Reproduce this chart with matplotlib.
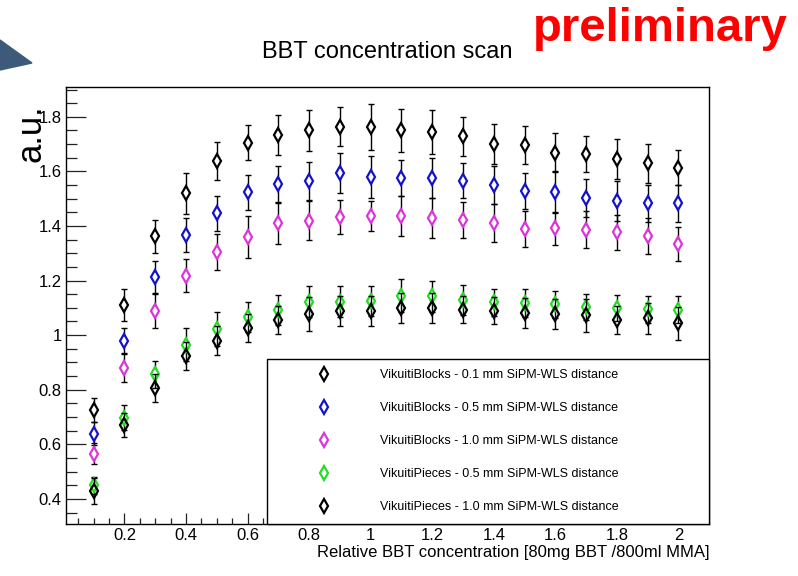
import matplotlib
matplotlib.use('Agg')
import matplotlib.pyplot as plt
from matplotlib.lines import Line2D
from matplotlib.patches import Polygon
import numpy as np

plt.rcParams['font.family'] = ['Liberation Sans', 'DejaVu Sans']

# relative BBT concentration
conc = [0.1, 0.2, 0.3, 0.4, 0.5, 0.6, 0.7, 0.8, 0.9, 1.0,
        1.1, 1.2, 1.3, 1.4, 1.5, 1.6, 1.7, 1.8, 1.9, 2.0]

blocks_01 = [0.725, 1.110, 1.362, 1.520, 1.637, 1.705, 1.734, 1.750, 1.764, 1.762,
             1.750, 1.744, 1.728, 1.700, 1.697, 1.668, 1.664, 1.646, 1.630, 1.613]
blocks_01_err = [0.045, 0.058, 0.061, 0.075, 0.070, 0.064, 0.073, 0.075, 0.072, 0.084,
                 0.078, 0.080, 0.073, 0.073, 0.070, 0.072, 0.065, 0.074, 0.072, 0.064]

blocks_05 = [0.639, 0.979, 1.212, 1.367, 1.447, 1.524, 1.554, 1.566, 1.594, 1.579,
             1.576, 1.576, 1.566, 1.550, 1.527, 1.524, 1.503, 1.490, 1.483, 1.483]
blocks_05_err = [0.043, 0.049, 0.061, 0.064, 0.064, 0.064, 0.067, 0.069, 0.074, 0.077,
                 0.067, 0.073, 0.065, 0.070, 0.066, 0.076, 0.070, 0.073, 0.067, 0.067]

blocks_10 = [0.566, 0.881, 1.089, 1.218, 1.303, 1.361, 1.410, 1.419, 1.432, 1.437,
             1.436, 1.428, 1.422, 1.411, 1.389, 1.391, 1.386, 1.377, 1.364, 1.334]
blocks_10_err = [0.038, 0.053, 0.064, 0.061, 0.066, 0.077, 0.075, 0.072, 0.063, 0.055,
                 0.073, 0.073, 0.067, 0.071, 0.065, 0.062, 0.068, 0.064, 0.065, 0.064]

pieces_05 = [0.450, 0.698, 0.857, 0.965, 1.022, 1.067, 1.093, 1.122, 1.123, 1.125,
             1.144, 1.142, 1.130, 1.120, 1.117, 1.113, 1.103, 1.098, 1.095, 1.093]
pieces_05_err = [0.032, 0.045, 0.050, 0.060, 0.063, 0.055, 0.055, 0.057, 0.057, 0.055,
                 0.060, 0.058, 0.055, 0.050, 0.052, 0.050, 0.047, 0.048, 0.050, 0.050]

pieces_10 = [0.429, 0.670, 0.806, 0.924, 0.979, 1.026, 1.056, 1.077, 1.089, 1.089,
             1.098, 1.098, 1.093, 1.089, 1.081, 1.077, 1.073, 1.056, 1.061, 1.044]
pieces_10_err = [0.046, 0.045, 0.050, 0.050, 0.053, 0.050, 0.050, 0.061, 0.055, 0.055,
                 0.055, 0.055, 0.050, 0.050, 0.055, 0.055, 0.060, 0.050, 0.055, 0.060]

labels = ['VikuitiBlocks - 0.1 mm SiPM-WLS distance',
          'VikuitiBlocks - 0.5 mm SiPM-WLS distance',
          'VikuitiBlocks - 1.0 mm SiPM-WLS distance',
          'VikuitiPieces - 0.5 mm SiPM-WLS distance',
          'VikuitiPieces - 1.0 mm SiPM-WLS distance']
colors = ['black', '#1212cc', '#dd33dd', '#22dd22', 'black']

xticks = [0.2, 0.4, 0.6, 0.8, 1.0, 1.2, 1.4, 1.6, 1.8, 2.0]
xtick_labels = ['0.2', '0.4', '0.6', '0.8', '1', '1.2', '1.4', '1.6', '1.8', '2']
yticks = [0.4, 0.6, 0.8, 1.0, 1.2, 1.4, 1.6, 1.8]
ytick_labels = ['0.4', '0.6', '0.8', '1', '1.2', '1.4', '1.6', '1.8']

series = [(blocks_01, blocks_01_err), (blocks_05, blocks_05_err), (blocks_10, blocks_10_err),
          (pieces_05, pieces_05_err), (pieces_10, pieces_10_err)]

fig = plt.figure(figsize=(7.98, 5.76), dpi=100)
ax = fig.add_axes([0.0827, 0.0903, 0.806, 0.759])

gap = 0.019  # error bar stops at the marker edge, ROOT style
x = np.array(conc)
for k, (vals, errs) in enumerate(series):
    y = np.array(vals)
    e = np.array(errs)
    ax.vlines(x, y + gap, y + e, color='black', lw=1.0, zorder=2 + k)
    ax.vlines(x, y - e, y - gap, color='black', lw=1.0, zorder=2 + k)
    ax.plot(x, y + e, ls='none', marker='_', ms=4.5, mew=1.0, color='black', zorder=2 + k)
    ax.plot(x, y - e, ls='none', marker='_', ms=4.5, mew=1.0, color='black', zorder=2 + k)
    ax.plot(x, y, ls='none', marker='d', ms=7.5, mfc='none', mec=colors[k], mew=1.6, zorder=2 + k)

ax.set_xlim(0.01, 2.1)
ax.set_ylim(0.308, 1.91)
ax.set_xticks(xticks)
ax.set_xticklabels(xtick_labels)
ax.set_yticks(yticks)
ax.set_yticklabels(ytick_labels)
ax.set_xticks(np.arange(0.05, 2.1, 0.05), minor=True)
ax.set_yticks(np.arange(0.35, 1.91, 0.05), minor=True)
ax.tick_params(axis='both', which='both', direction='in', top=False, right=False,
               labelsize=12, width=0.9, color='#222222')
ax.tick_params(axis='y', which='major', length=14.5, pad=3)
ax.tick_params(axis='y', which='minor', length=8)
ax.tick_params(axis='x', which='major', length=8, pad=3)
ax.tick_params(axis='x', which='minor', length=4)
for s in ax.spines.values():
    s.set_linewidth(1.0)

ax.set_xlabel('Relative BBT concentration [80mg BBT /800ml MMA]', fontsize=12,
              loc='right', labelpad=1)

handles = [Line2D([], [], ls='none', marker='d', ms=7.5, mfc='none', mec=c, mew=1.6)
           for c in colors]
leg = ax.legend(handles, labels, loc='lower left', bbox_to_anchor=(0.3126, 0.0, 0.6874, 0.3),
                mode='expand', borderaxespad=0, fontsize=9, handlelength=7.4,
                handletextpad=0.8, borderpad=0.85, labelspacing=1.68, fancybox=False,
                framealpha=1, edgecolor='black')
leg.get_frame().set_linewidth(1.0)
leg.set_zorder(10)

fig.text(387 / 798, 1 - 52 / 576, 'BBT concentration scan', ha='center', va='center',
         fontsize=17)
fig.text(533 / 798, 1 - 41 / 576, 'preliminary', ha='left', va='baseline', fontsize=34,
         fontweight='bold', color='#ff0000')
fig.text(31 / 798, 1 - 133 / 576, 'a.u.', rotation=90, ha='center', va='center', fontsize=25)
fig.patches.append(Polygon([(0, 1 - 40 / 576), (32 / 798, 1 - 63 / 576), (0, 1 - 70 / 576)],
                           closed=True, transform=fig.transFigure, color='#3d5a7b'))

fig.savefig('out.png', dpi=100)
